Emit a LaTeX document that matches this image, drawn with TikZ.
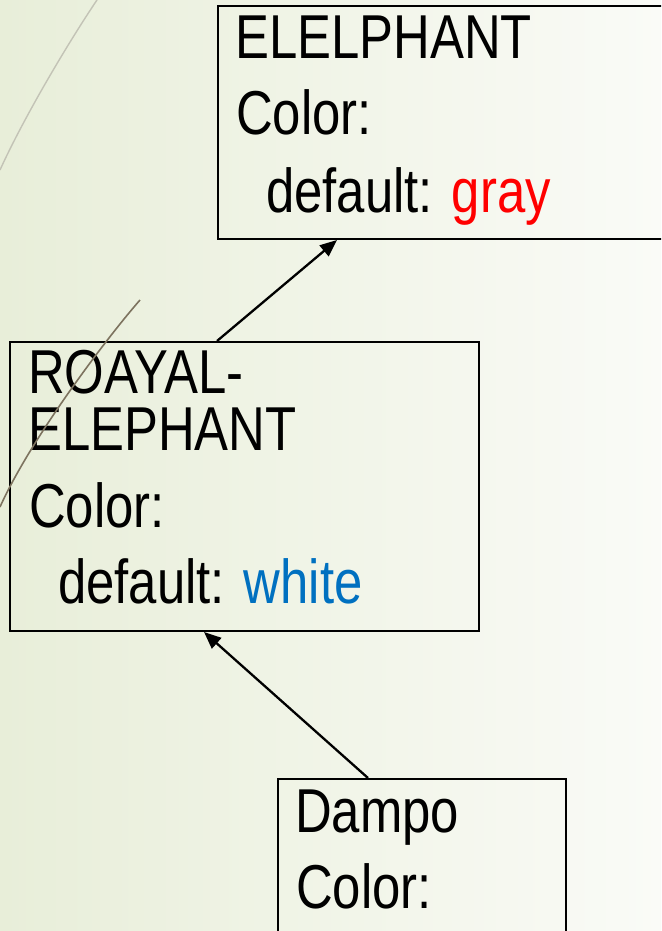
\documentclass[tikz,border=0pt]{standalone}
\usepackage{fontspec}
\setmainfont{Liberation Sans}[FakeStretch=0.82]
\usetikzlibrary{arrows.meta}
\definecolor{bgleft}{RGB}{232,238,217}
\definecolor{bgmid}{RGB}{243,246,236}
\definecolor{bgright}{RGB}{250,251,247}
\definecolor{decolight}{RGB}{195,195,182}
\definecolor{decodark}{RGB}{125,115,95}
\definecolor{txtred}{RGB}{255,0,0}
\definecolor{txtblue}{RGB}{0,112,192}
\begin{document}
\begin{tikzpicture}[x=1pt,y=-1pt,
  box/.style={draw=black,line width=2pt,rectangle,anchor=north west,inner sep=0pt},
  txt/.style={anchor=base west,inner sep=0pt,font=\fontsize{62}{76}\selectfont},
  link/.style={line width=2.3pt,-{Triangle[length=17pt,width=14pt]}}]
\clip (0,0) rectangle (661,931);
\shade[left color=bgleft,middle color=bgmid,right color=bgright] (0,0) rectangle (661,931);
% decorative lines
\draw[decolight,line width=1.4pt] (97,0) .. controls (70,40) and (25,115) .. (0,170);
% boxes
\node[box,minimum width=470pt,minimum height=233pt] (topbox) at (217,5) {};
\node[box,minimum width=469pt,minimum height=289pt] (midbox) at (9,341) {};
\node[box,minimum width=288pt,minimum height=200pt] (botbox) at (277,778) {};
% texts
\node[txt] (t1) at (235,59) {ELELPHANT};
\node[txt] (t2) at (236,135) {Color:};
\node[txt] (t3) at (266,212) {default: \textcolor{txtred}{gray}};
\node[txt] (m1) at (28,393) {ROAYAL-};
\node[txt] (m2) at (28,450) {ELEPHANT};
\node[txt] (m3) at (29,527) {Color:};
\node[txt] (m4) at (58,603) {default: \textcolor{txtblue}{white}};
\node[txt] (b1) at (295,832) {Dampo};
\node[txt] (b2) at (296,908) {Color:};
% connectors
\draw[link] ([xshift=208pt]midbox.north west) -- ([xshift=120pt]topbox.south west);
\draw[link] ([xshift=91pt]botbox.north west) -- ([xshift=195pt]midbox.south west);
% dark decorative line
\draw[decodark,line width=1.6pt] (140,300) .. controls (105,340) and (30,440) .. (0,507);
\end{tikzpicture}
\end{document}
